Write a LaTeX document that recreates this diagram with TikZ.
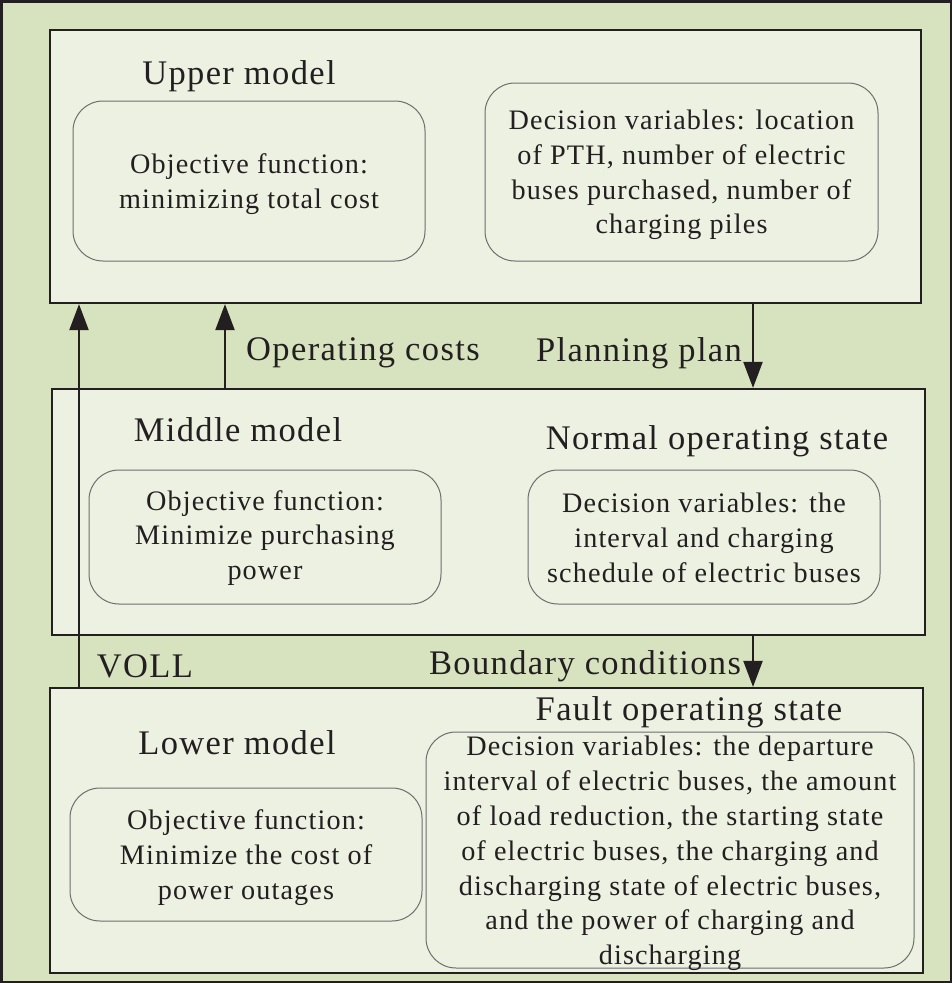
\documentclass[tikz,border=0pt]{standalone}
\usepackage{fontspec}
\setmainfont{Liberation Serif}[LetterSpace=4]
\usetikzlibrary{arrows.meta}
\definecolor{bgout}{HTML}{D7E3BF}
\definecolor{bgin}{HTML}{ECF1E2}
\definecolor{ink}{HTML}{231F20}
\definecolor{rimgray}{HTML}{6E6E6E}
\tikzset{
  layer/.style={draw=ink, line width=2.2pt, fill=bgin, rectangle, inner sep=0pt},
  rbox/.style={draw=rimgray, line width=1pt, rounded corners=30pt, inner sep=0pt},
  btext/.style={align=center, inner sep=0pt, font=\fontsize{28.2}{34.8}\selectfont, text=ink, yshift=-3pt},
  head/.style={font=\fontsize{34.5}{40}\selectfont, text=ink, inner sep=0pt},
  arr/.style={draw=ink, line width=2.2pt, -{Triangle[length=26pt,width=19pt]}},
}
\begin{document}
\begin{tikzpicture}[x=1pt,y=-1pt]
\useasboundingbox (0,0) rectangle (952,983);
\draw[draw=ink, line width=2.5pt, fill=bgout] (1.25,1.25) rectangle (950.75,981.75);
% layers
\node[layer, minimum width=871pt, minimum height=273pt] (upper) at (485.5,166.5) {};
\node[layer, minimum width=873pt, minimum height=246pt] (middle) at (488.5,512) {};
\node[layer, minimum width=873pt, minimum height=285pt] (lower) at (486.5,830.5) {};
% heads
\node[head] (uh) at (239,76) {Upper model};
\node[head] (mh) at (238,430) {Middle model};
\node[head] (nh) at (717,441) {Normal operating state};
\node[head] (fh) at (689,712) {Fault operating state};
\node[head] (lh) at (237,743) {Lower model};
% rounded boxes
\node[rbox, minimum width=352pt, minimum height=160pt] (b1) at (249,181) {};
\node[btext] (t1) at (b1) {Objective function:\\minimizing total cost};
\node[rbox, minimum width=393pt, minimum height=178pt] (b2) at (681.5,172) {};
\node[btext] (t2) at (b2) {Decision variables: location\\of PTH, number of electric\\buses purchased, number of\\charging piles};
\node[rbox, minimum width=352pt, minimum height=134pt] (b3) at (265,537) {};
\node[btext, yshift=2pt] (t3) at (b3) {Objective function:\\Minimize purchasing\\power};
\node[rbox, minimum width=352pt, minimum height=134pt] (b4) at (704,537) {};
\node[btext, yshift=2pt] (t4) at (b4) {Decision variables: the\\interval and charging\\schedule of electric buses};
\node[rbox, minimum width=352pt, minimum height=133pt] (b5) at (246,854.5) {};
\node[btext] (t5) at (b5) {Objective function:\\Minimize the cost of\\power outages};
\node[rbox, minimum width=488pt, minimum height=236pt] (b6) at (670,850) {};
\node[btext, yshift=-0.5pt] (t6) at (b6) {Decision variables: the departure\\interval of electric buses, the amount\\of load reduction, the starting state\\of electric buses, the charging and\\discharging state of electric buses,\\and the power of charging and\\discharging};
% arrows
\draw[arr] (lower.north -| 79,0) -- (upper.south -| 79,0);
\draw[arr] (middle.north -| 225,0) -- (upper.south -| 225,0);
\draw[arr] (upper.south -| 753,0) -- (middle.north -| 753,0);
\draw[arr] (middle.south -| 753,0) -- (lower.north -| 753,0);
% labels
\node[head] (l1) at (363,353) {Operating costs};
\node[head] (l2) at (639,353) {Planning plan};
\node[head] (l3) at (145,666) {VOLL};
\node[head] (l4) at (585,666) {Boundary conditions};
\end{tikzpicture}
\end{document}
